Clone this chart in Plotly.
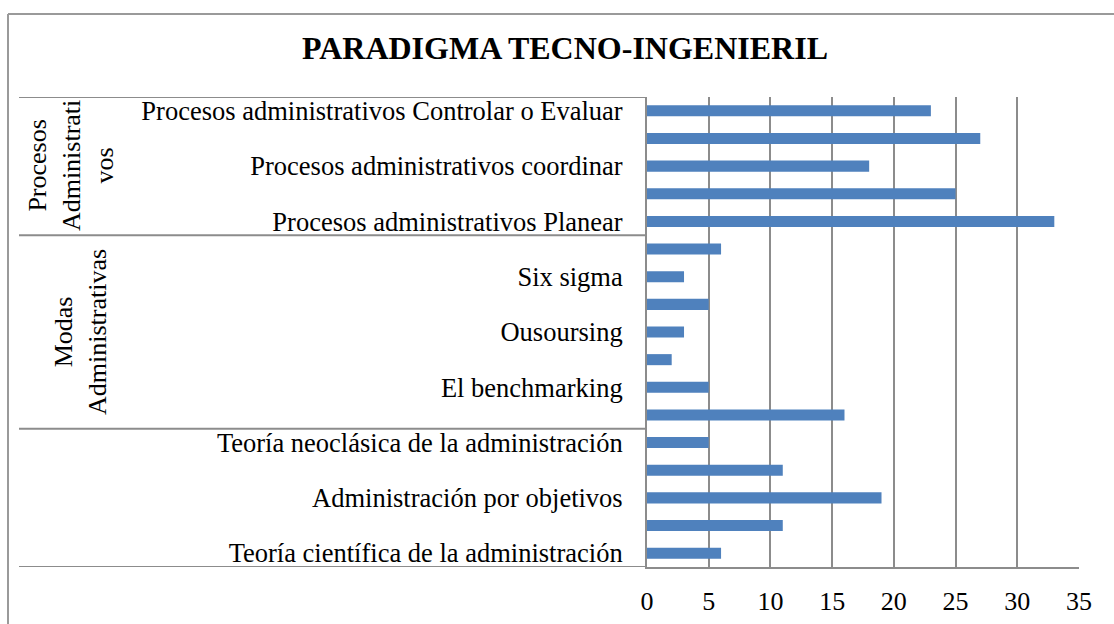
import plotly.graph_objects as go

# ---- data (top to bottom) ----
labels = [
    "Procesos administrativos Controlar o Evaluar", "",
    "Procesos administrativos coordinar", "",
    "Procesos administrativos Planear",
    "", "Six sigma", "", "Ousoursing", "", "El benchmarking", "",
    "Teoría neoclásica de la administración", "",
    "Administración por objetivos", "",
    "Teoría científica de la administración",
]
values = [23, 27, 18, 25, 33, 6, 3, 5, 3, 2, 5, 16, 5, 11, 19, 11, 6]
group_names = ["Procesos<br>Administrati<br>vos", "Modas<br>Administrativas", ""]
group_sizes = [5, 7, 5]
x_ticks = [0, 5, 10, 15, 20, 25, 30, 35]
title_text = "PARADIGMA TECNO-INGENIERIL"

W, H = 1114, 624
L, R, T, B = 647, 35, 97, 57
pw, ph = W - L - R, H - T - B

def px_x(p):
    return (p - L) / pw

def px_y(p):
    return (H - B - p) / ph

FONT = "Liberation Serif"
GRID = "#8c8c8c"

idx = list(range(len(values)))
tickvals = [i for i, s in enumerate(labels) if s]
ticktext = [s for s in labels if s]

fig = go.Figure(go.Bar(
    x=values, y=idx, orientation="h",
    marker=dict(color="#4F81BD", line=dict(width=0)),
    width=0.4,
))

shapes = []
annotations = []
start = 0
bounds = [-0.5]
for name, size in zip(group_names, group_sizes):
    end = start + size
    bounds.append(end - 0.5)
    if name:
        annotations.append(dict(
            text=name, textangle=-90, showarrow=False,
            xref="paper", yref="y",
            x=px_x(71 if name.count("<br>") == 2 else 80),
            y=(start + end - 1) / 2,
            xanchor="center", yanchor="middle",
            font=dict(family=FONT, size=26, color="black"),
        ))
    start = end
for b in bounds:
    shapes.append(dict(type="line", xref="paper", yref="y",
                       x0=px_x(19), x1=0, y0=b, y1=b,
                       line=dict(color=GRID, width=2)))

# outer frame (extends past the picture on the right/bottom)
shapes.append(dict(type="line", xref="paper", yref="paper",
                   x0=px_x(8), x1=px_x(8), y0=px_y(14), y1=px_y(640),
                   line=dict(color="#9a9a9a", width=2)))
shapes.append(dict(type="line", xref="paper", yref="paper",
                   x0=px_x(8), x1=px_x(1130), y0=px_y(14), y1=px_y(14),
                   line=dict(color="#9a9a9a", width=2)))

fig.update_layout(
    width=W, height=H,
    margin=dict(l=L, r=R, t=T, b=B),
    paper_bgcolor="white", plot_bgcolor="white",
    showlegend=False,
    title=dict(text="<b>" + title_text + "</b>", x=565 / W, y=1 - 48 / H,
               xanchor="center", yanchor="middle",
               font=dict(family=FONT, size=32, color="black")),
    shapes=shapes, annotations=annotations,
    xaxis=dict(range=[0, 35], tickvals=x_ticks, ticktext=[str(v) for v in x_ticks],
               showgrid=True, gridcolor=GRID, gridwidth=2,
               showline=True, linecolor=GRID, linewidth=2,
               zeroline=False, ticks="", ticklabelstandoff=10,
               tickfont=dict(family=FONT, size=26, color="black"),
               fixedrange=True, automargin=False),
    yaxis=dict(range=[16.5, -0.5], tickmode="array", tickvals=tickvals, ticktext=ticktext,
               showgrid=False, zeroline=False,
               showline=True, linecolor=GRID, linewidth=2,
               ticks="", ticklabelstandoff=17,
               tickfont=dict(family=FONT, size=26.5, color="black"),
               fixedrange=True, automargin=False),
)

fig.write_html("out.html", config={"displayModeBar": False})
with open("out.html", "r", encoding="utf-8") as f:
    html = f.read()
html = html.replace("<head>", "<head><style>html,body{margin:0;padding:0;overflow:hidden;}</style>", 1)
with open("out.html", "w", encoding="utf-8") as f:
    f.write(html)
